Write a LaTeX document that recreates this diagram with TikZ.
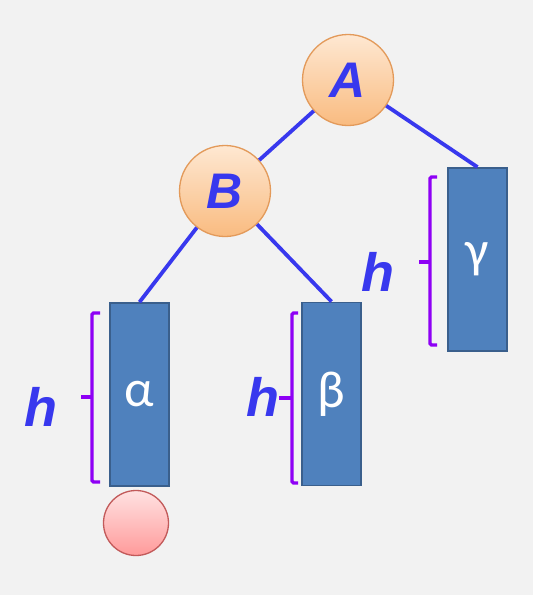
\documentclass[tikz,border=0pt]{standalone}
\usepackage{fontspec}
\setmainfont{Carlito}
\newfontfamily\lblfont{Liberation Sans}
\usepackage{tikz}
\usetikzlibrary{positioning, calc}

\begin{document}
\begin{tikzpicture}[x=1pt, y=-1pt,
  treenode/.style={circle, minimum size=91pt, inner sep=0pt, draw=nodeborda, line width=1.3pt,
    top color=nodetopo, bottom color=nodebase, text=azul,
    font=\lblfont\bfseries\itshape\fontsize{50}{50}\selectfont},
  subtree/.style={rectangle, minimum width=59pt, minimum height=183pt, inner sep=0pt,
    draw=caixaborda, line width=1.8pt, fill=caixa, text=white,
    font=\fontsize{52}{52}\selectfont},
  edge/.style={draw=azul, line width=3.8pt},
  hbrace/.style={draw=roxo, line width=3.2pt, rounded corners=1.5pt},
  hlabel/.style={text=azul, inner sep=0pt, font=\lblfont\bfseries\itshape\fontsize{54}{54}\selectfont}]
% --- CORES ---
\definecolor{fundo}{HTML}{F2F2F2}
\definecolor{azul}{HTML}{3838EE}
\definecolor{roxo}{HTML}{8E00F5}
\definecolor{caixa}{HTML}{4F81BD}
\definecolor{caixaborda}{HTML}{3A5F8C}
\definecolor{nodetopo}{HTML}{FEE8D2}
\definecolor{nodebase}{HTML}{F9BB80}
\definecolor{nodeborda}{HTML}{E39A5A}
\definecolor{rosatopo}{HTML}{FFE2E2}
\definecolor{rosabase}{HTML}{FF9A9A}
\definecolor{rosaborda}{HTML}{C25A5A}

% LAYER 0: fundo
\fill[fundo] (0,0) rectangle (533,595);
\useasboundingbox (0,0) rectangle (533,595);

% LAYER 1: subarvores
\node[subtree] (alpha) at (139.5,394.5) {α};
\node[subtree] (beta)  at (331.5,394)   {β};
\node[subtree] (gamma) at (477.5,259.5) {γ};

% LAYER 2: nos A e B
\node[treenode] (A) at (348,80)  {A};
\node[treenode] (B) at (225,191) {B};

% LAYER 3: arestas
\draw[edge] (A) -- (B);
\draw[edge] (A) -- (gamma.north);
\draw[edge] (B) -- (alpha.north);
\draw[edge] (B) -- (beta.north);

% LAYER 4: chaves de altura
\draw[hbrace] (100,313) -- (92,313) -- (92,482) -- (100,482);
\draw[hbrace] (92,397) -- (81,397);
\draw[hbrace] (298,313) -- (292,313) -- (292,483) -- (298,483);
\draw[hbrace] (292,398) -- (279,398);
\draw[hbrace] (437,177) -- (430,177) -- (430,345) -- (437,345);
\draw[hbrace] (430,262) -- (419,262);

\node[hlabel] (h1) at (41,407) {h};
\node[hlabel] (h2) at (263,397) {h};
\node[hlabel] (h3) at (378,272) {h};

% LAYER 5: no vazio
\node[circle, minimum size=65pt, inner sep=0pt, draw=rosaborda, line width=1.3pt,
  top color=rosatopo, bottom color=rosabase] (nil) at (136,523) {};
\end{tikzpicture}
\end{document}
